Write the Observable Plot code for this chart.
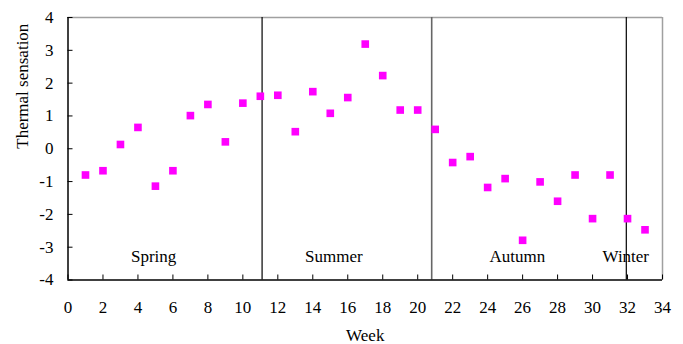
<!DOCTYPE html>
<html>
<head>
<meta charset="utf-8">
<script src="https://cdn.jsdelivr.net/npm/d3@7"></script>
<script src="https://cdn.jsdelivr.net/npm/@observablehq/plot@0.6"></script>
<style>
  html, body { margin: 0; padding: 0; background: #fff; }
  #chart svg { display: block; }
</style>
</head>
<body>
<div id="chart"></div>
<script>
// Weekly mean thermal sensation votes
const weeks = [1, 2, 3, 4, 5, 6, 7, 8, 9, 10, 11, 12, 13, 14, 15, 16, 17,
               18, 19, 20, 21, 22, 23, 24, 25, 26, 27, 28, 29, 30, 31, 32, 33];
const sensation = [-0.80, -0.67, 0.13, 0.65, -1.14, -0.67, 1.01, 1.35, 0.21, 1.39, 1.60,
                   1.63, 0.52, 1.74, 1.08, 1.56, 3.19, 2.23, 1.18, 1.18,
                   0.59, -0.42, -0.24, -1.18, -0.91, -2.79, -1.01, -1.60, -0.80, -2.13, -0.80,
                   -2.13, -2.47];

// Season boundaries (week) and season labels
const boundaries = [11.1, 20.8, 31.93];
const boundaryColors = ["#000", "#666", "#000"];
const seasons = ["Spring", "Summer", "Autumn", "Winter"];
const seasonWeek = [4.9, 15.2, 25.7, 31.9];
const seasonLevel = -3.3;

const xTicks = d3.range(0, 35, 2);
const yTicks = d3.range(-4, 5, 1);

const points = weeks.map((w, i) => ({week: w, value: sensation[i]}));
const lines = boundaries.map((b, i) => ({week: b, color: boundaryColors[i]}));
const labels = seasons.map((s, i) => ({name: s, week: seasonWeek[i]}));

const font = "'Liberation Serif', 'Times New Roman', serif";

const chart = Plot.plot({
  width: 683,
  height: 344,
  marginLeft: 67.5,
  marginRight: 21,
  marginTop: 17,
  marginBottom: 64.5,
  style: {fontFamily: font, fontSize: "17px", color: "#000", background: "#fff"},
  x: {domain: [0, 34]},
  y: {domain: [-4, 4]},
  marks: [
    // plot-area border: light top/right, dark left/bottom
    Plot.ruleY([4], {stroke: "#a0a0a0", strokeWidth: 1.5}),
    Plot.ruleX([34], {stroke: "#a0a0a0", strokeWidth: 1.5}),
    // season separators
    Plot.ruleX(lines, {x: "week", stroke: "color", strokeWidth: d => d.color === "#666" ? 1.6 : 1.2}),
    Plot.ruleX([0], {stroke: "#000", strokeWidth: 1.5}),
    Plot.ruleY([-4], {stroke: "#000", strokeWidth: 1.5}),
    // axes with inward tick marks
    Plot.axisX({ticks: xTicks, tickSize: -5, tickPadding: 26, tickFormat: d => String(d), label: null, fontSize: 17}),
    Plot.axisY({ticks: yTicks, tickSize: -5, tickPadding: 19.5, tickFormat: d => String(d), label: null, fontSize: 17}),
    // axis titles
    Plot.text(["Week"], {frameAnchor: "bottom", dy: 55.5, lineAnchor: "middle", fontSize: 17}),
    Plot.text(["Thermal sensation"], {frameAnchor: "left", dx: -45.5, rotate: -90, lineAnchor: "middle", fontSize: 17}),
    // season names
    Plot.text(labels, {x: "week", y: seasonLevel, text: "name", lineAnchor: "middle", fontSize: 17}),
    // weekly values
    Plot.dot(points, {x: "week", y: "value", symbol: "square", r: 4.3, fill: "#ff00ff", stroke: "none"})
  ]
});

document.getElementById("chart").appendChild(chart);
</script>
</body>
</html>
